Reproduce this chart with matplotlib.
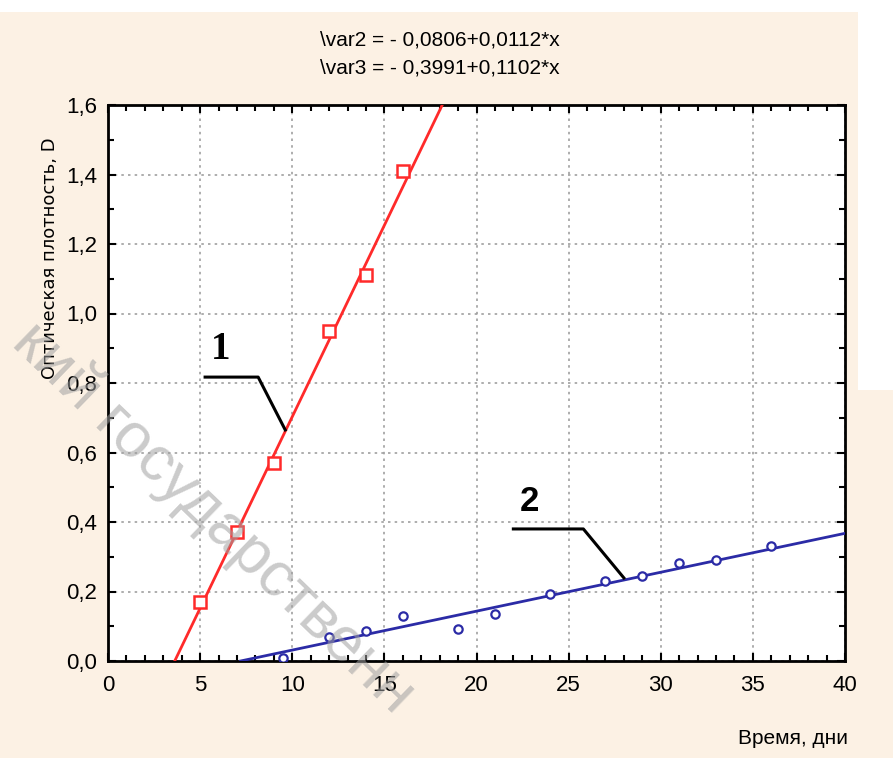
import matplotlib
matplotlib.use("Agg")
import matplotlib.pyplot as plt
import numpy as np
from matplotlib.ticker import MultipleLocator, FuncFormatter
from matplotlib.patches import Rectangle

# Data
days_1 = [5, 7, 9, 12, 14, 16]
density_1 = [0.17, 0.37, 0.57, 0.95, 1.11, 1.41]
days_2 = [9.5, 12, 14, 16, 19, 21, 24, 27, 29, 31, 33, 36]
density_2 = [0.01, 0.069, 0.085, 0.13, 0.092, 0.135, 0.193, 0.23, 0.245, 0.282, 0.29, 0.33]
fit_1 = (-0.3991, 0.1102)
fit_2 = (-0.0806, 0.0112)
title_lines = ["\\var2 = - 0,0806+0,0112*x", "\\var3 = - 0,3991+0,1102*x"]
x_ticks = [0, 5, 10, 15, 20, 25, 30, 35, 40]
y_ticks = [0.0, 0.2, 0.4, 0.6, 0.8, 1.0, 1.2, 1.4, 1.6]

font = "Liberation Sans"
bg = "#FCF1E4"
fig = plt.figure(figsize=(8.93, 7.58), dpi=100, facecolor=bg)
# white scan margins
fig.patches.append(Rectangle((0, 1 - 12 / 758), 1, 12 / 758, transform=fig.transFigure,
                             facecolor="white", edgecolor="none", zorder=0))
fig.patches.append(Rectangle((858 / 893, 1 - 390 / 758), 35 / 893, 390 / 758,
                             transform=fig.transFigure, facecolor="white",
                             edgecolor="none", zorder=0))

ax = fig.add_axes([108 / 893, 1 - 661 / 758, (845 - 108) / 893, (661 - 105) / 758])
ax.set_facecolor("white")
ax.set_xlim(0, 40)
ax.set_ylim(0, 1.6)
ax.set_xticks(x_ticks)
ax.set_yticks(y_ticks)
ax.xaxis.set_minor_locator(MultipleLocator(1))
ax.yaxis.set_minor_locator(MultipleLocator(0.1))
ax.yaxis.set_major_formatter(FuncFormatter(lambda v, p: f"{v:.1f}".replace(".", ",")))
ax.xaxis.set_major_formatter(FuncFormatter(lambda v, p: f"{v:.0f}"))
ax.tick_params(which="both", direction="in", top=True, right=True, colors="black",
               labelsize=16, width=1.5)
ax.tick_params(which="major", length=6)
ax.tick_params(axis="x", which="major", pad=10)
ax.tick_params(axis="y", which="major", pad=8)
ax.tick_params(which="minor", length=4)
for lab in ax.get_xticklabels() + ax.get_yticklabels():
    lab.set_family(font)
for s in ax.spines.values():
    s.set_linewidth(2)
ax.grid(True, which="major", color="#A0A0A0", linestyle=(0, (1.5, 2.5)), linewidth=1.2)

# fitted lines
xx1 = np.array([-fit_1[0] / fit_1[1], 40])
ax.plot(xx1, fit_1[0] + fit_1[1] * xx1, color="#FF2A2A", lw=2, zorder=3)
xx2 = np.array([-fit_2[0] / fit_2[1], 40])
ax.plot(xx2, fit_2[0] + fit_2[1] * xx2, color="#2B2BA6", lw=2, zorder=3)

ax.plot(days_1, density_1, linestyle="none", marker="s", markersize=8, mfc="white",
        mec="#FF2A2A", mew=1.8, zorder=4)
ax.plot(days_2, density_2, linestyle="none", marker="o", markersize=6, mfc="white",
        mec="#2B2BA6", mew=1.6, zorder=4)

# curve labels with leader lines
ax.text(6.09, 0.895, "1", fontsize=28, fontweight="bold", family="Liberation Serif",
        ha="center", va="center", zorder=5)
ax.plot([5.27, 8.15, 9.62], [0.817, 0.817, 0.665], color="black", lw=2.2, zorder=5)
ax.text(22.9, 0.458, "2", fontsize=25, fontweight="bold", family="Liberation Sans",
        ha="center", va="center", zorder=5)
ax.plot([22.0, 25.8, 28.0], [0.38, 0.38, 0.239], color="black", lw=2.2, zorder=5)

# titles / labels
fig.text(440 / 893, 1 - 40 / 758, title_lines[0], ha="center", va="center",
         fontsize=15, family=font)
fig.text(440 / 893, 1 - 68 / 758, title_lines[1], ha="center", va="center",
         fontsize=15, family=font)
fig.text(50 / 893, 1 - 258 / 758, "Оптическая плотность, D", rotation=90,
         ha="center", va="center", fontsize=13, family="DejaVu Sans")
fig.text(848 / 893, 1 - 738 / 758, "Время, дни", ha="right", va="center",
         fontsize=15, family=font)

# watermark
fig.text(22 / 893, 1 - 332 / 758, "кий государственн", rotation=-44,
         rotation_mode="anchor", ha="left", va="center", fontsize=45,
         family="Liberation Sans", color="#A0A0A0", alpha=0.55, zorder=10)

fig.savefig("out.png", dpi=100, facecolor=bg)
